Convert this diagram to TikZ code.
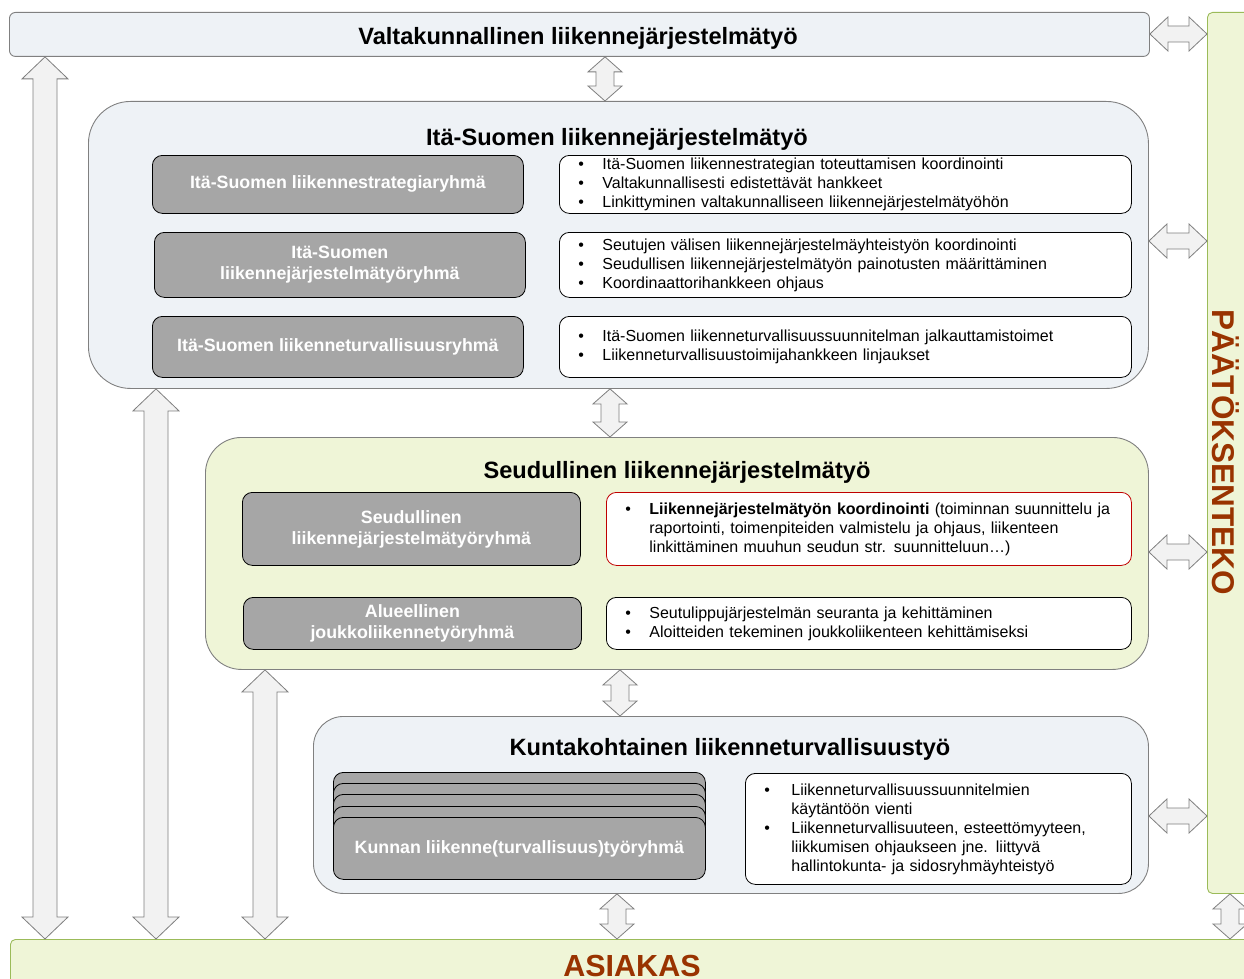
\documentclass[tikz,border=0pt]{standalone}
\usepackage{fontspec}
\setmainfont{Liberation Sans}
\usetikzlibrary{calc}

\definecolor{paleblue}{HTML}{EEF2F6}
\definecolor{palegreen}{HTML}{EFF5D7}
\definecolor{greenline}{HTML}{9BBB59}
\definecolor{frame}{HTML}{808080}
\definecolor{boxgray}{HTML}{A6A6A6}
\definecolor{arrowfill}{HTML}{F2F2F2}
\definecolor{arrowline}{HTML}{7F7F7F}
\definecolor{redline}{HTML}{C00000}
\definecolor{titlebrown}{HTML}{993300}

\newcommand{\titlefont}{\fontsize{23.6}{28}\selectfont\bfseries}
\newcommand{\groupfont}{\fontsize{17.8}{21}\selectfont\bfseries}
\newcommand{\listfont}{\fontsize{16}{19}\selectfont}
\newcommand{\bigfont}{\fontsize{30.5}{36}\selectfont\bfseries}
\newcommand{\sidefont}{\fontsize{31.5}{36}\selectfont\bfseries}

% bullet and hanging indent
\newcommand{\bul}[1][24pt]{\makebox[#1][l]{\textbullet}}
\newcommand{\cont}[1][24pt]{\hspace*{#1}}

% double block arrows: column/row, from, to, shaft half, head half, head length
\newcommand{\vdarrow}[6]{%
  \draw[blockarrow] let \p1=(#2 -| #1), \p2=(#3 -| #1) in
    (\p1) -- ({\x1+#5pt},{\y1-#6pt}) -- ({\x1+#4pt},{\y1-#6pt})
    -- ({\x1+#4pt},{\y2+#6pt}) -- ({\x1+#5pt},{\y2+#6pt}) -- (\p2)
    -- ({\x1-#5pt},{\y2+#6pt}) -- ({\x1-#4pt},{\y2+#6pt})
    -- ({\x1-#4pt},{\y1-#6pt}) -- ({\x1-#5pt},{\y1-#6pt}) -- cycle;}
\newcommand{\hdarrow}[6]{%
  \draw[blockarrow] let \p1=(#2 |- #1), \p2=(#3 |- #1) in
    (\p1) -- ({\x1+#6pt},{\y1+#5pt}) -- ({\x1+#6pt},{\y1+#4pt})
    -- ({\x2-#6pt},{\y1+#4pt}) -- ({\x2-#6pt},{\y1+#5pt}) -- (\p2)
    -- ({\x2-#6pt},{\y1-#5pt}) -- ({\x2-#6pt},{\y1-#4pt})
    -- ({\x1+#6pt},{\y1-#4pt}) -- ({\x1+#6pt},{\y1-#5pt}) -- cycle;}

\begin{document}
\begin{tikzpicture}[x=1pt,y=-1pt]
  \tikzstyle{area}=[draw=frame,line width=0.9pt,anchor=north west,inner sep=0pt]
  \tikzstyle{bar}=[draw=greenline,fill=palegreen,line width=0.9pt,anchor=north west,rounded corners=5pt]
  \tikzstyle{groupbox}=[draw=black,fill=boxgray,line width=0.8pt,rounded corners=10pt,anchor=north west,inner sep=0pt,align=center,text=white,font=\groupfont]
  \tikzstyle{listbox}=[draw=black,fill=white,line width=0.8pt,rounded corners=10pt,anchor=north west,inner xsep=19pt,inner ysep=0pt,align=left,font=\listfont]
  \tikzstyle{title}=[anchor=base,font=\titlefont]
  \tikzstyle{blockarrow}=[draw=arrowline,fill=arrowfill,line width=0.8pt,line join=miter]

  \useasboundingbox (0,0) rectangle (1244,979);

  % decision making and customer
  \node[bar,minimum width=80,minimum height=881] (paatos) at (1207,12) {};
  \node[bar,minimum width=1280,minimum height=80] (asiakas) at (10,939) {};
  \node[anchor=base,rotate=-90,font=\sidefont,text=titlebrown] (paatostext) at (1212,452) {PÄÄTÖKSENTEKO};
  \node[anchor=base,font=\bigfont,text=titlebrown] (asiakastext) at (632,976) {ASIAKAS};

  % national level
  \node[area,fill=paleblue,rounded corners=6pt,minimum width=1140,minimum height=44] (valta) at (9,12) {};
  \node[title] (valtatitle) at (578,45) {Valtakunnallinen liikennejärjestelmätyö};

  % Itä-Suomi
  \node[area,fill=paleblue,rounded corners=42pt,minimum width=1060,minimum height=287] (ita) at (88,101) {};
  \node[title] (itatitle) at (617,146) {Itä-Suomen liikennejärjestelmätyö};
  \node[groupbox,minimum width=371,minimum height=58] (itag1) at (152,155) {Itä-Suomen liikennestrategiaryhmä};
  \node[groupbox,minimum width=371,minimum height=65] (itag2) at (154,232) {Itä-Suomen\\liikennejärjestelmätyöryhmä};
  \node[groupbox,minimum width=371,minimum height=61] (itag3) at (152,316) {Itä-Suomen liikenneturvallisuusryhmä};
  \node[listbox,text width=534,minimum height=58] (ital1) at (559,155)
    {\bul Itä-Suomen liikennestrategian toteuttamisen koordinointi\\
     \bul Valtakunnallisesti edistettävät hankkeet\\
     \bul Linkittyminen valtakunnalliseen liikennejärjestelmätyöhön};
  \node[listbox,text width=534,minimum height=65] (ital2) at (559,232)
    {\bul Seutujen välisen liikennejärjestelmäyhteistyön koordinointi\\
     \bul Seudullisen liikennejärjestelmätyön painotusten määrittäminen\\
     \bul Koordinaattorihankkeen ohjaus};
  \node[listbox,text width=534,minimum height=61] (ital3) at (559,316)
    {\bul Itä-Suomen liikenneturvallisuussuunnitelman jalkauttamistoimet\\
     \bul Liikenneturvallisuustoimijahankkeen linjaukset};

  % seutu
  \node[area,fill=palegreen,rounded corners=36pt,minimum width=943,minimum height=232] (seutu) at (205,437) {};
  \node[title] (seututitle) at (677,478) {Seudullinen liikennejärjestelmätyö};
  \node[groupbox,minimum width=338,minimum height=73] (seutug1) at (242,492) {Seudullinen\\liikennejärjestelmätyöryhmä};
  \node[groupbox,minimum width=338,minimum height=52] (seutug2) at (243,597) {Alueellinen\\joukkoliikennetyöryhmä};
  \node[listbox,draw=redline,text width=487,minimum height=73] (seutul1) at (606,492)
    {\bul\textbf{Liikennejärjestelmätyön koordinointi} (toiminnan suunnittelu ja\\
     \cont raportointi, toimenpiteiden valmistelu ja ohjaus, liikenteen\\
     \cont linkittäminen muuhun seudun str. suunnitteluun…)};
  \node[listbox,text width=487,minimum height=52] (seutul2) at (606,597)
    {\bul Seutulippujärjestelmän seuranta ja kehittäminen\\
     \bul Aloitteiden tekeminen joukkoliikenteen kehittämiseksi};

  % kunta
  \node[area,fill=paleblue,rounded corners=30pt,minimum width=835,minimum height=177] (kunta) at (313,716) {};
  \node[title] (kuntatitle) at (730,755) {Kuntakohtainen liikenneturvallisuustyö};
  \foreach \ystack in {772,783,794,806}
    \node[groupbox,minimum width=372,minimum height=61] at (333,\ystack) {};
  \node[groupbox,minimum width=372,minimum height=62] (kuntag) at (333,817) {Kunnan liikenne(turvallisuus)työryhmä};
  \node[listbox,text width=348,minimum height=111] (kuntal) at (745,773)
    {\bul[27pt]Liikenneturvallisuussuunnitelmien\\
     \cont[27pt]käytäntöön vienti\\
     \bul[27pt]Liikenneturvallisuuteen, esteettömyyteen,\\
     \cont[27pt]liikkumisen ohjaukseen jne. liittyvä\\
     \cont[27pt]hallintokunta- ja sidosryhmäyhteistyö};

  % arrows
  \coordinate (colA) at (45,0);
  \coordinate (colB) at (156,0);
  \coordinate (colC) at (265,0);
  \coordinate (colD) at (605,0);
  \coordinate (colE) at (610,0);
  \coordinate (colF) at (620,0);
  \coordinate (colG) at (617,0);
  \coordinate (colH) at (1230,0);
  \coordinate (rowA) at (0,34);
  \coordinate (rowB) at (0,241);
  \coordinate (rowC) at (0,552);
  \coordinate (rowD) at (0,816);
  \vdarrow{colA}{valta.south}{asiakas.north}{12}{23}{22}
  \vdarrow{colB}{ita.south}{asiakas.north}{12}{23}{22}
  \vdarrow{colC}{seutu.south}{asiakas.north}{12}{23}{22}
  \vdarrow{colD}{valta.south}{ita.north}{9}{17}{15}
  \vdarrow{colE}{ita.south}{seutu.north}{9}{17}{15}
  \vdarrow{colF}{seutu.south}{kunta.north}{9}{17}{15}
  \vdarrow{colG}{kunta.south}{asiakas.north}{9}{17}{15}
  \vdarrow{colH}{paatos.south}{asiakas.north}{9}{17}{15}
  \hdarrow{rowA}{valta.east}{paatos.west}{8}{17}{18}
  \hdarrow{rowB}{ita.east}{paatos.west}{8}{17}{18}
  \hdarrow{rowC}{seutu.east}{paatos.west}{8}{17}{18}
  \hdarrow{rowD}{kunta.east}{paatos.west}{8}{17}{18}
\end{tikzpicture}
\end{document}
